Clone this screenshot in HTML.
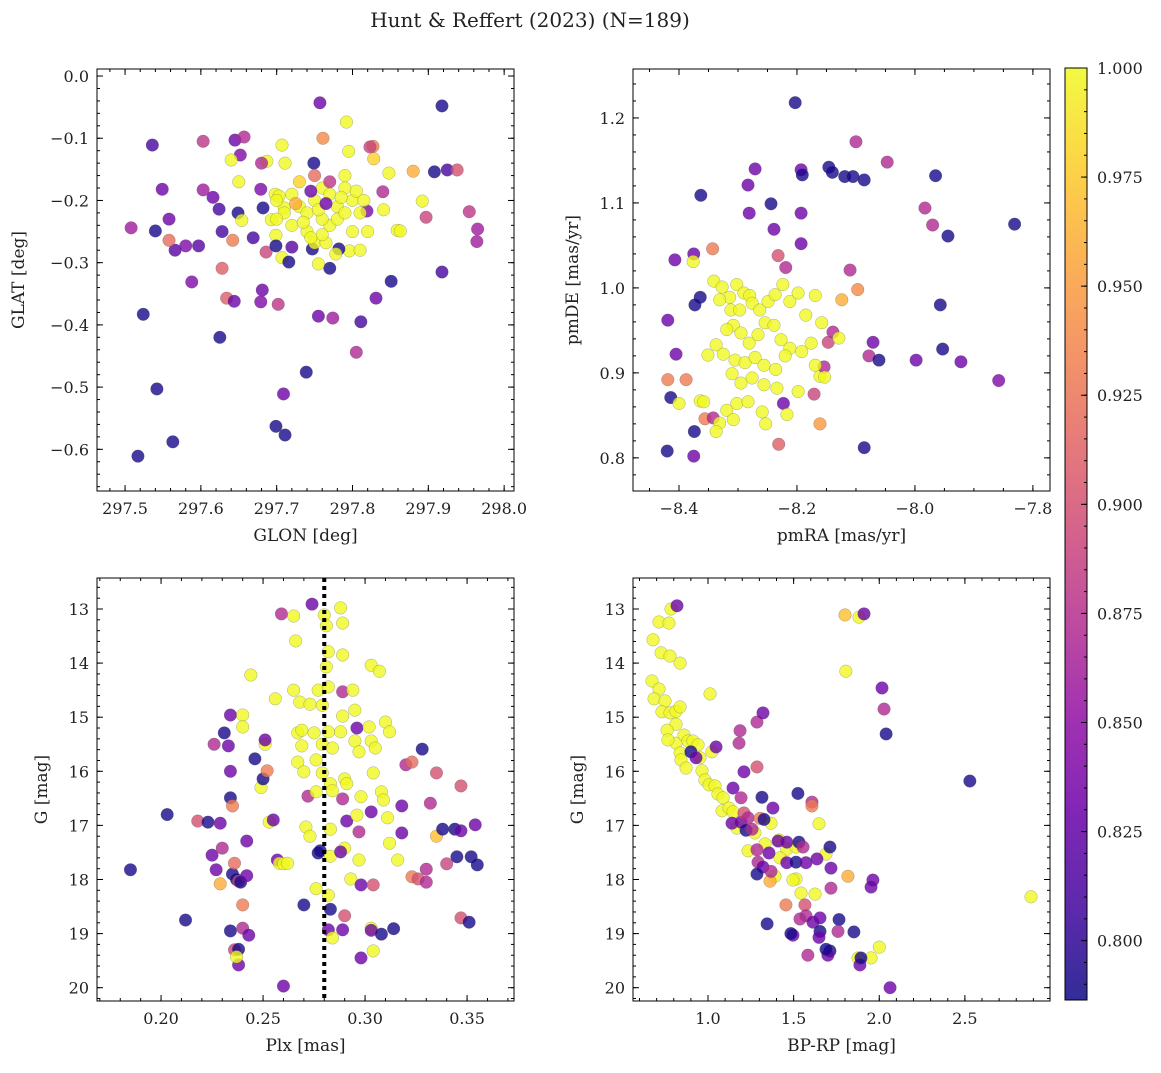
<!DOCTYPE html>
<html><head><meta charset="utf-8"><title>Hunt & Reffert (2023)</title>
<style>
body{margin:0;background:#fff;}
svg text{font-family:"DejaVu Serif","Liberation Serif",serif;fill:#222;}
</style></head>
<body>
<svg id="fig" width="1161" height="1068" viewBox="0 0 1161 1068" xmlns="http://www.w3.org/2000/svg">
<rect width="1161" height="1068" fill="#fff"/>
<text x="530" y="27" font-size="20" text-anchor="middle">Hunt &amp; Reffert (2023) (N=189)</text>
</svg>
<script>
// ---- data: [x, y, membership probability] ----
const skyPoints = [[297.918,-0.048,.79],[297.757,-0.043,.83],[297.508,-0.244,.86],[297.536,-0.111,.81],[297.549,-0.182,.83],[297.558,-0.230,.83],[297.540,-0.249,.79],[297.566,-0.280,.82],[297.558,-0.264,.92],[297.580,-0.273,.84],[297.597,-0.273,.82],[297.603,-0.105,.88],[297.603,-0.183,.86],[297.616,-0.195,.83],[297.624,-0.214,.81],[297.628,-0.250,.81],[297.588,-0.331,.84],[297.524,-0.383,.79],[297.542,-0.503,.79],[297.563,-0.588,.79],[297.517,-0.611,.79],[297.628,-0.309,.91],[297.634,-0.357,.91],[297.644,-0.362,.83],[297.625,-0.420,.79],[297.645,-0.103,.83],[297.652,-0.127,.84],[297.657,-0.098,.87],[297.640,-0.135,1],[297.650,-0.170,1],[297.649,-0.220,.79],[297.654,-0.232,1],[297.642,-0.264,.93],[297.669,-0.260,.81],[297.687,-0.137,1],[297.680,-0.140,.87],[297.679,-0.182,.84],[297.686,-0.283,.89],[297.681,-0.344,.83],[297.679,-0.363,.84],[297.702,-0.367,.88],[297.682,-0.212,.79],[297.693,-0.231,1],[297.699,-0.256,1],[297.699,-0.273,.79],[297.707,-0.292,1],[297.716,-0.299,.79],[297.710,-0.212,1],[297.698,-0.190,1],[297.703,-0.193,1],[297.707,-0.111,1],[297.711,-0.140,1],[297.699,-0.563,.79],[297.709,-0.511,.83],[297.711,-0.577,.79],[297.739,-0.476,.79],[297.755,-0.386,.83],[297.774,-0.389,.86],[297.805,-0.444,.87],[297.811,-0.395,.81],[297.831,-0.357,.83],[297.851,-0.330,.79],[297.749,-0.140,.79],[297.761,-0.100,.94],[297.792,-0.074,1],[297.795,-0.121,1],[297.827,-0.113,.93],[297.823,-0.114,.89],[297.828,-0.133,.98],[297.848,-0.156,1],[297.880,-0.153,.96],[297.840,-0.186,.87],[297.819,-0.217,.84],[297.841,-0.215,1],[297.859,-0.248,1],[297.863,-0.249,1],[297.892,-0.201,1],[297.908,-0.154,.79],[297.925,-0.151,.81],[297.938,-0.151,.90],[297.954,-0.218,.88],[297.965,-0.246,.86],[297.964,-0.266,.86],[297.918,-0.315,.81],[297.897,-0.227,.89],[297.796,-0.281,1],[297.782,-0.278,.79],[297.770,-0.309,.79],[297.747,-0.278,.79],[297.755,-0.302,1],[297.750,-0.268,1],[297.765,-0.268,1],[297.770,-0.240,1],[297.778,-0.286,1],[297.72,-0.19,1],[297.73,-0.21,1],[297.74,-0.22,1],[297.75,-0.20,1],[297.76,-0.18,1],[297.77,-0.19,1],[297.78,-0.21,1],[297.79,-0.18,1],[297.80,-0.20,1],[297.81,-0.22,1],[297.72,-0.24,1],[297.74,-0.25,1],[297.76,-0.23,1],[297.78,-0.23,1],[297.79,-0.22,1],[297.80,-0.25,1],[297.73,-0.17,.98],[297.75,-0.16,.92],[297.77,-0.17,.88],[297.79,-0.16,1],[297.71,-0.22,1],[297.70,-0.20,1],[297.735,-0.235,1],[297.755,-0.215,1],[297.765,-0.205,.83],[297.745,-0.185,.83],[297.725,-0.205,.96],[297.785,-0.195,1],[297.805,-0.185,1],[297.815,-0.2,1],[297.76,-0.255,1],[297.745,-0.26,1],[297.72,-0.275,.82],[297.70,-0.23,1],[297.81,-0.28,1],[297.82,-0.25,1]];

const pmPoints = [[-8.203,1.218,.79],[-8.1,1.172,.87],[-8.047,1.148,.87],[-8.146,1.142,.79],[-8.14,1.136,.79],[-8.193,1.139,.83],[-8.191,1.133,.79],[-8.119,1.131,.79],[-8.105,1.131,.79],[-8.086,1.127,.79],[-8.271,1.140,.83],[-8.283,1.121,.83],[-8.281,1.088,.83],[-8.244,1.099,.79],[-8.193,1.088,.83],[-8.239,1.069,.83],[-8.363,1.109,.79],[-7.965,1.132,.79],[-7.983,1.094,.87],[-7.97,1.074,.87],[-7.944,1.061,.79],[-7.831,1.075,.79],[-8.407,1.033,.83],[-8.375,1.040,.83],[-8.343,1.046,.93],[-8.376,1.031,1],[-8.232,1.038,.90],[-8.219,1.024,.87],[-8.193,1.052,.83],[-8.11,1.021,.87],[-8.097,0.998,.94],[-8.124,0.986,.96],[-8.364,0.989,.79],[-8.373,0.98,.79],[-8.419,0.962,.83],[-8.405,0.922,.83],[-8.419,0.892,.93],[-8.388,0.892,.93],[-8.414,0.871,.79],[-8.4,0.864,1],[-8.364,0.867,1],[-8.42,0.808,.79],[-8.374,0.831,.79],[-8.375,0.802,.83],[-8.356,0.846,.93],[-8.342,0.847,.87],[-8.231,0.816,.91],[-8.161,0.84,.95],[-8.147,0.936,.89],[-8.139,0.948,.87],[-8.071,0.936,.83],[-8.078,0.92,.87],[-8.061,0.915,.79],[-7.998,0.915,.83],[-7.953,0.928,.79],[-7.922,0.913,.83],[-7.858,0.891,.84],[-7.957,0.98,.79],[-8.086,0.812,.79],[-8.223,0.864,.83],[-8.161,0.896,1],[-8.171,0.875,.89],[-8.154,0.907,.87],[-8.341,1.008,1],[-8.327,1.001,1],[-8.314,0.989,1],[-8.302,1.004,1],[-8.290,0.994,1],[-8.280,0.991,1],[-8.331,0.986,1],[-8.312,0.974,1],[-8.297,0.974,1],[-8.276,0.982,1],[-8.263,0.974,1],[-8.249,0.984,1],[-8.237,0.992,1],[-8.224,1.004,1],[-8.212,0.984,1],[-8.198,0.994,1],[-8.185,0.968,1],[-8.169,0.991,1],[-8.158,0.959,1],[-8.308,0.956,1],[-8.295,0.947,1],[-8.319,0.951,1],[-8.281,0.935,1],[-8.266,0.945,1],[-8.254,0.959,1],[-8.239,0.956,1],[-8.227,0.939,1],[-8.212,0.929,1],[-8.192,0.925,1],[-8.176,0.935,1],[-8.337,0.933,1],[-8.325,0.922,1],[-8.351,0.921,1],[-8.305,0.915,1],[-8.288,0.912,1],[-8.271,0.918,1],[-8.256,0.909,1],[-8.236,0.904,1],[-8.220,0.920,1],[-8.310,0.899,1],[-8.295,0.888,1],[-8.276,0.894,1],[-8.256,0.886,1],[-8.234,0.882,1],[-8.302,0.864,1],[-8.283,0.866,1],[-8.259,0.854,1],[-8.319,0.856,1],[-8.331,0.841,1],[-8.308,0.845,1],[-8.253,0.840,1],[-8.217,0.851,1],[-8.198,0.878,1],[-8.337,0.831,1],[-8.358,0.866,1],[-8.169,0.909,1],[-8.129,0.941,1],[-8.153,0.895,1]];

const plxPoints = [[0.185,17.82,.79],[0.203,16.8,.79],[0.212,18.75,.79],[0.218,16.92,.90],[0.223,16.94,.79],[0.226,15.5,.87],[0.225,17.55,.83],[0.227,17.82,.83],[0.229,18.08,.96],[0.229,16.96,.83],[0.230,17.42,.87],[0.231,15.29,.79],[0.233,15.53,.83],[0.234,14.96,.83],[0.234,16.0,.83],[0.234,16.49,.79],[0.234,18.95,.79],[0.235,17.9,.79],[0.235,16.64,.93],[0.236,17.70,.92],[0.236,19.3,.89],[0.237,18.0,.79],[0.238,19.29,.79],[0.238,18.03,.89],[0.238,19.58,.83],[0.239,18.05,.79],[0.24,14.96,1],[0.24,15.18,1],[0.24,18.9,.87],[0.24,18.47,.93],[0.237,19.43,1],[0.243,19.03,.83],[0.242,17.93,.83],[0.242,17.29,.83],[0.244,14.22,1],[0.246,15.77,.79],[0.249,16.3,1],[0.25,16.14,.79],[0.251,15.5,1],[0.251,15.42,.83],[0.252,15.99,.93],[0.253,16.94,1],[0.255,16.9,.83],[0.256,14.66,1],[0.257,17.64,.83],[0.258,17.7,1],[0.259,13.09,.87],[0.26,19.97,.83],[0.26,17.71,1],[0.262,17.7,1],[0.265,13.13,1],[0.265,14.5,1],[0.266,13.59,1],[0.267,15.29,1],[0.267,15.83,1],[0.268,14.72,1],[0.269,15.53,1],[0.269,15.24,1],[0.27,16.01,1],[0.27,18.47,.79],[0.271,17.03,1],[0.273,14.76,1],[0.273,17.2,1],[0.272,16.46,.87],[0.274,12.91,.83],[0.275,15.29,1],[0.277,14.5,1],[0.277,17.51,.79],[0.276,15.79,1],[0.276,16.38,1],[0.276,18.17,1],[0.279,14.78,1],[0.279,15.5,1],[0.279,16.03,1],[0.278,17.47,.79],[0.28,13.11,1],[0.281,13.31,1],[0.282,13.79,1],[0.281,14.07,1],[0.282,14.44,1],[0.282,15.27,1],[0.284,15.57,1],[0.283,16.23,1],[0.284,16.36,1],[0.283,17.07,1],[0.283,17.57,1],[0.282,18.29,1],[0.282,18.93,.83],[0.284,19.08,1],[0.283,18.55,.79],[0.288,12.98,1],[0.289,13.26,1],[0.289,13.85,1],[0.289,14.53,.87],[0.289,14.98,1],[0.288,15.27,1],[0.29,16.14,1],[0.289,16.51,.87],[0.291,16.23,1],[0.291,16.92,.83],[0.29,17.42,1],[0.288,17.49,.83],[0.29,18.67,.90],[0.289,18.93,.83],[0.293,17.99,1],[0.294,14.50,1],[0.295,14.87,1],[0.295,15.44,1],[0.296,15.2,.83],[0.297,15.64,1],[0.298,16.47,1],[0.296,16.81,1],[0.297,17.12,.87],[0.297,17.64,1],[0.298,18.1,.83],[0.298,19.45,.83],[0.303,14.04,1],[0.307,14.15,1],[0.302,15.18,1],[0.303,15.44,1],[0.305,15.57,1],[0.304,16.03,1],[0.303,16.75,.83],[0.304,18.1,.90],[0.303,18.9,1],[0.304,19.32,1],[0.303,18.94,.83],[0.308,19.01,.79],[0.31,15.09,1],[0.308,16.38,1],[0.309,16.53,1],[0.312,15.27,1],[0.311,16.86,1],[0.312,17.33,1],[0.314,18.91,.79],[0.316,17.64,1],[0.318,17.14,.83],[0.318,16.64,.83],[0.32,15.88,.87],[0.323,15.83,.92],[0.323,17.95,.93],[0.326,17.99,.90],[0.328,15.59,.79],[0.332,16.59,.87],[0.33,17.81,.87],[0.33,18.05,.87],[0.335,17.2,.97],[0.335,16.03,.90],[0.338,17.07,.79],[0.34,17.71,.89],[0.345,17.58,.79],[0.344,17.07,.79],[0.347,16.27,.90],[0.347,17.1,.83],[0.347,18.71,.90],[0.351,18.79,.79],[0.352,17.58,.79],[0.354,16.99,.83],[0.355,17.73,.79]];

const cmdPoints = [[0.679,13.57,1],[0.714,13.24,1],[0.784,13.0,1],[0.772,13.26,1],[0.726,13.81,1],[0.778,13.87,1],[0.837,14.0,1],[0.673,14.33,1],[0.714,14.48,1],[0.685,14.66,1],[0.749,14.7,1],[0.731,14.9,1],[0.778,14.92,1],[0.813,14.89,1],[0.837,14.81,1],[0.813,15.13,1],[0.761,15.24,1],[0.813,15.48,1],[0.86,15.33,1],[0.883,15.44,1],[0.766,15.42,1],[0.837,15.66,1],[0.912,15.44,1],[1.012,14.57,1],[0.942,15.51,1],[1.023,15.64,1],[0.953,15.75,1],[0.842,15.79,1],[0.872,15.94,1],[0.965,15.99,1],[0.982,16.16,1],[1.006,16.25,1],[1.041,16.27,1],[1.058,16.42,1],[1.088,16.49,1],[1.082,16.73,1],[1.123,16.68,1],[1.146,16.75,1],[1.169,17.05,1],[1.234,17.47,1],[1.274,17.14,1],[1.333,17.34,1],[1.368,16.96,1],[1.391,17.94,1],[1.415,17.27,1],[1.46,17.44,1],[1.514,17.99,1],[1.496,18.01,1],[1.543,18.25,1],[1.625,18.27,1],[1.648,16.97,1],[1.8,13.11,.97],[1.882,13.15,1],[1.805,14.15,1],[1.42,17.6,1],[2.886,18.32,1],[2.0,19.25,1],[1.952,19.45,1],[1.876,19.45,1],[1.689,17.53,1],[1.514,17.40,1],[0.819,12.94,.83],[1.911,13.09,.83],[1.286,15.09,.87],[1.321,14.92,.83],[1.187,15.25,.87],[1.181,15.48,.87],[0.9,15.64,.79],[0.93,15.75,.83],[1.047,15.55,.83],[2.016,14.46,.83],[2.028,14.85,.87],[2.04,15.31,.79],[2.529,16.18,.79],[1.286,15.92,.90],[1.21,16.01,.83],[1.146,16.31,.83],[1.315,16.48,.79],[1.379,16.68,.83],[1.193,16.49,.87],[1.14,16.96,.83],[1.193,16.94,.83],[1.222,17.09,.79],[1.257,17.07,.87],[1.21,16.77,.90],[1.234,16.86,.87],[1.304,16.87,.93],[1.327,16.89,.79],[1.525,16.41,.79],[1.607,16.57,.87],[1.607,16.64,.93],[1.409,17.29,.83],[1.46,17.31,.83],[1.531,17.31,.79],[1.555,17.4,.87],[1.286,17.45,.87],[1.356,17.51,.83],[1.292,17.68,.87],[1.321,17.77,.83],[1.286,17.9,.79],[1.362,18.03,.96],[1.368,17.85,.87],[1.46,17.69,.83],[1.514,17.68,.79],[1.572,17.69,.83],[1.636,17.62,.83],[1.712,17.4,.79],[1.718,17.79,.83],[1.718,18.16,.87],[1.817,17.94,.96],[1.963,18.01,.83],[1.952,18.14,.83],[1.345,18.82,.79],[1.455,18.47,.93],[1.537,18.73,.87],[1.566,18.47,.90],[1.572,18.67,.87],[1.613,18.79,.83],[1.654,18.71,.83],[1.765,18.74,.79],[1.654,18.96,.79],[1.759,18.96,.87],[1.496,19.03,.83],[1.484,19.0,.79],[1.583,19.4,.87],[1.712,19.32,.79],[1.852,18.97,.79],[1.7,19.4,.83],[1.648,19.07,.83],[1.887,19.58,.83],[2.063,20.0,.83],[1.893,19.45,.79],[1.689,19.29,.79]];

const glonTicks = [297.5,297.6,297.7,297.8,297.9,298.0];
const glatTicks = [0.0,-0.1,-0.2,-0.3,-0.4,-0.5,-0.6];
const pmraTicks = [-8.4,-8.2,-8.0,-7.8];
const pmdeTicks = [0.8,0.9,1.0,1.1,1.2];
const plxTicks = [0.20,0.25,0.30,0.35];
const bprpTicks = [1.0,1.5,2.0,2.5];
const gTicks = [13,14,15,16,17,18,19,20];
const colorTicks = [0.800,0.825,0.850,0.875,0.900,0.925,0.950,0.975,1.000];
const plxReference = [0.28];
const colorRange = [0.7864, 1.0];

const NS = 'http://www.w3.org/2000/svg';
const svg = document.getElementById('fig');
function mk(tag, attrs, parent){
  const e = document.createElementNS(NS, tag);
  for (const k in attrs) e.setAttribute(k, attrs[k]);
  (parent||svg).appendChild(e);
  return e;
}
const plasma = ['#0d0887','#41049d','#6a00a8','#8f0da4','#b12a90','#cc4778','#e16462','#f2844b','#fca636','#fcce25','#f0f921'];
function hex(h){return [parseInt(h.slice(1,3),16),parseInt(h.slice(3,5),16),parseInt(h.slice(5,7),16)];}
function cmap(t){
  t=Math.max(0,Math.min(1,t));
  const f=t*10, i=Math.min(9,Math.floor(f)), r=f-i;
  const a=hex(plasma[i]), b=hex(plasma[i+1]);
  return 'rgb('+a.map((v,k)=>Math.round(v+(b[k]-v)*r)).join(',')+')';
}
function pcolor(p){return cmap((p-colorRange[0])/(colorRange[1]-colorRange[0]));}

function panel(cfg){
  const g = mk('g', {});
  
  
  const sx = v => cfg.x0 + (v - cfg.xmin)/(cfg.xmax - cfg.xmin)*(cfg.x1 - cfg.x0);
  const sy = v => cfg.y1 - (v - cfg.ymin)/(cfg.ymax - cfg.ymin)*(cfg.y1 - cfg.y0);
  cfg.points.forEach(p=>{
    const c = mk('circle',{cx:sx(p[0]),cy:sy(p[1]),r:6.3,fill:pcolor(p[2]),'fill-opacity':0.8,stroke:'#555','stroke-width':0.4,'stroke-opacity':0.6},g);
    
    
  });
  (cfg.vlines||[]).forEach(v=>{
    const l = mk('line',{x1:sx(v),x2:sx(v),y1:cfg.y0,y2:cfg.y1,stroke:'#000','stroke-width':4,'stroke-dasharray':'4,4'},g);
    
    
  });
  const fr = mk('rect',{x:cfg.x0,y:cfg.y0,width:cfg.x1-cfg.x0,height:cfg.y1-cfg.y0,fill:'none',stroke:'#000','stroke-width':1},g);
  
  
  const lo=Math.min(cfg.xmin,cfg.xmax), hi=Math.max(cfg.xmin,cfg.xmax);
  for (let v=Math.ceil(lo/cfg.xminor-1e-9)*cfg.xminor; v<=hi+1e-9; v+=cfg.xminor){
    const X=sx(v);
    mk('line',{x1:X,x2:X,y1:cfg.y1,y2:cfg.y1-3,stroke:'#000'},g);
    mk('line',{x1:X,x2:X,y1:cfg.y0,y2:cfg.y0+3,stroke:'#000'},g);
  }
  const ylo=Math.min(cfg.ymin,cfg.ymax), yhi=Math.max(cfg.ymin,cfg.ymax);
  for (let v=Math.ceil(ylo/cfg.yminor-1e-9)*cfg.yminor; v<=yhi+1e-9; v+=cfg.yminor){
    const Y=sy(v);
    mk('line',{x1:cfg.x0,x2:cfg.x0+3,y1:Y,y2:Y,stroke:'#000'},g);
    mk('line',{x1:cfg.x1,x2:cfg.x1-3,y1:Y,y2:Y,stroke:'#000'},g);
  }
  cfg.xticks.forEach(v=>{
    const X=sx(v);
    mk('line',{x1:X,x2:X,y1:cfg.y1,y2:cfg.y1-6,stroke:'#000'},g);
    mk('line',{x1:X,x2:X,y1:cfg.y0,y2:cfg.y0+6,stroke:'#000'},g);
    const t=mk('text',{x:X,y:cfg.y1+23,'font-size':16,'text-anchor':'middle'},g);
    t.textContent=cfg.xfmt(v);
    
    
  });
  cfg.yticks.forEach(v=>{
    const Y=sy(v);
    mk('line',{x1:cfg.x0,x2:cfg.x0+6,y1:Y,y2:Y,stroke:'#000'},g);
    mk('line',{x1:cfg.x1,x2:cfg.x1-6,y1:Y,y2:Y,stroke:'#000'},g);
    const t=mk('text',{x:cfg.x0-8,y:Y+6,'font-size':16,'text-anchor':'end'},g);
    t.textContent=cfg.yfmt(v);
    
    
  });
  const xl=mk('text',{x:(cfg.x0+cfg.x1)/2,y:cfg.y1+50,'font-size':17,'text-anchor':'middle'},g);
  xl.textContent=cfg.xlabel;
  
  
  const yx=cfg.ylabelX, yy=(cfg.y0+cfg.y1)/2;
  const yl=mk('text',{x:yx,y:yy,'font-size':17,'text-anchor':'middle',transform:'rotate(-90 '+yx+' '+yy+')'},g);
  yl.textContent=cfg.ylabel;
  
  
}
const mnus = s => s.replace('-','\u2212');
panel({name:'sky-position-panel',points:skyPoints,x0:97,x1:514,y0:69,y1:491,xmin:297.463,xmax:298.013,ymin:-0.667,ymax:0.0113,
  xticks:glonTicks,yticks:glatTicks,xminor:0.02,yminor:0.02,xfmt:v=>v.toFixed(1),yfmt:v=>mnus(v.toFixed(1)),
  xlabel:'GLON [deg]',ylabel:'GLAT [deg]',ylabelX:24});
panel({name:'proper-motion-panel',points:pmPoints,x0:633,x1:1050,y0:69,y1:491,xmin:-8.478,xmax:-7.771,ymin:0.761,ymax:1.2576,
  xticks:pmraTicks,yticks:pmdeTicks,xminor:0.05,yminor:0.02,xfmt:v=>mnus(v.toFixed(1)),yfmt:v=>v.toFixed(1),
  xlabel:'pmRA [mas/yr]',ylabel:'pmDE [mas/yr]',ylabelX:578});
panel({name:'parallax-magnitude-panel',points:plxPoints,vlines:plxReference,x0:97,x1:514,y0:578,y1:1001,xmin:0.1686,xmax:0.373,ymin:20.246,ymax:12.427,
  xticks:plxTicks,yticks:gTicks,xminor:0.01,yminor:0.2,xfmt:v=>v.toFixed(2),yfmt:v=>String(v),
  xlabel:'Plx [mas]',ylabel:'G [mag]',ylabelX:47});
panel({name:'color-magnitude-panel',points:cmdPoints,x0:633,x1:1050,y0:578,y1:1001,xmin:0.562,xmax:2.997,ymin:20.246,ymax:12.427,
  xticks:bprpTicks,yticks:gTicks,xminor:0.1,yminor:0.2,xfmt:v=>v.toFixed(1),yfmt:v=>String(v),
  xlabel:'BP-RP [mag]',ylabel:'G [mag]',ylabelX:583});

(function(){
  const g=mk('g',{});
  
  
  const x0=1065,x1=1087,y0=68,y1=1000;
  const defs=mk('defs',{},g);
  const lg=mk('linearGradient',{id:'cbg',x1:0,y1:1,x2:0,y2:0},defs);
  plasma.forEach((c,i)=>mk('stop',{offset:i/10,'stop-color':c,'stop-opacity':0.85},lg));
  mk('rect',{x:x0,y:y0,width:x1-x0,height:y1-y0,fill:'url(#cbg)',stroke:'#000','stroke-width':1},g);
  const sy=v=>y1-(v-colorRange[0])/(colorRange[1]-colorRange[0])*(y1-y0);
  for(let v=0.79;v<=1.0001;v+=0.005){const Y=sy(v);mk('line',{x1:x1,x2:x1-3,y1:Y,y2:Y,stroke:'#000'},g);}
  colorTicks.forEach(v=>{
    const Y=sy(v);
    mk('line',{x1:x1,x2:x1-6,y1:Y,y2:Y,stroke:'#000'},g);
    const t=mk('text',{x:x1+10,y:Y+6,'font-size':16},g);
    t.textContent=v.toFixed(3);
    
    
  });
})();
</script>
</body></html>
